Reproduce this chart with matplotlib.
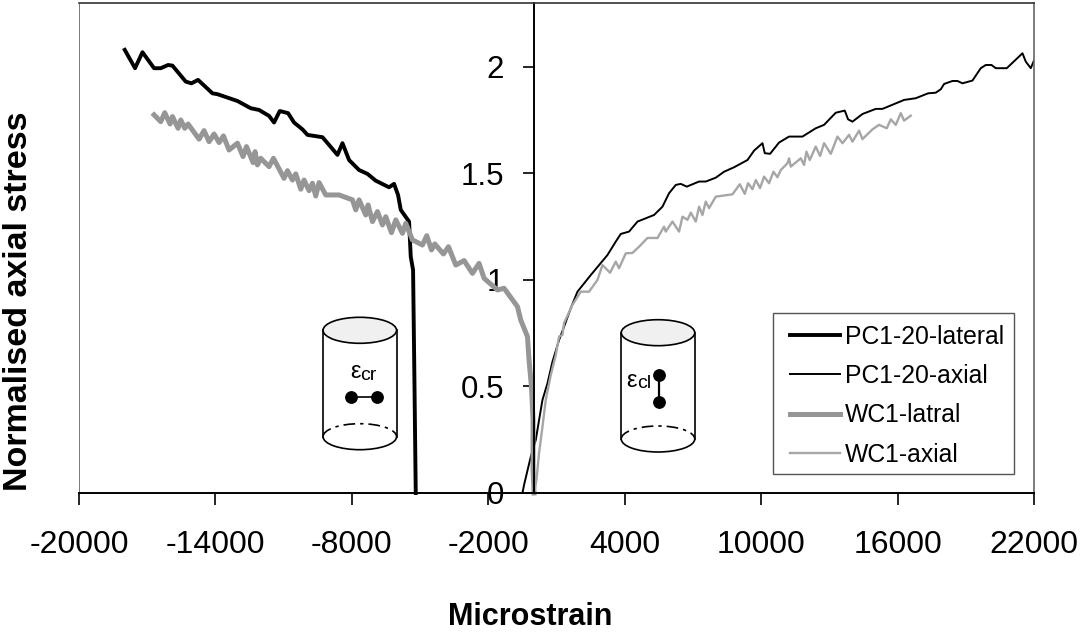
import matplotlib
matplotlib.use('Agg')
import matplotlib.pyplot as plt
from matplotlib.patches import Ellipse, Arc, Rectangle

plt.rcParams['font.family'] = ['Liberation Sans', 'DejaVu Sans']
plt.rcParams['axes.unicode_minus'] = False

# 값은 그림에서 읽은 추정치
pc_lat_x = [-17988, -17535, -17209, -16699, -16405, -16083, -15890, -15305, -15054, -14764, -14131, -13911, -13031, -12446, -12081, -11641, -11422, -11171, -10806, -10542, -10173, -9953, -9293, -9003, -8633, -8413, -8123, -7683, -7314, -6949, -6364, -6144, -5968, -5849, -5484, -5410, -5308, -5264, -5190]
pc_lat_y = [2.08, 1.994, 2.069, 1.994, 1.994, 2.009, 2.006, 1.931, 1.923, 1.939, 1.876, 1.872, 1.84, 1.806, 1.798, 1.77, 1.739, 1.793, 1.783, 1.739, 1.707, 1.681, 1.67, 1.634, 1.587, 1.642, 1.563, 1.516, 1.498, 1.466, 1.435, 1.451, 1.399, 1.329, 1.274, 1.109, 1.047, 0.671, 0]

pc_ax_x = [-497, -427, -132, 88, 308, 383, 603, 822, 1113, 1333, 1627, 1922, 2507, 3241, 3606, 3826, 4191, 4561, 5291, 5660, 5950, 6245, 6465, 6729, 7270, 7565, 8004, 8369, 8809, 9399, 9689, 10058, 10159, 10392, 10788, 11228, 11817, 12402, 12767, 13282, 13678, 13823, 14016, 14456, 15041, 15336, 16286, 16800, 17341, 17680, 17900, 18045, 18414, 18634, 18854, 19294, 19659, 19879, 20130, 20319, 20803, 21493, 21638, 21858, 22000]
pc_ax_y = [0, 0.038, 0.17, 0.249, 0.39, 0.437, 0.515, 0.616, 0.718, 0.781, 0.867, 0.945, 1.023, 1.117, 1.18, 1.216, 1.227, 1.274, 1.305, 1.344, 1.407, 1.446, 1.451, 1.438, 1.462, 1.462, 1.48, 1.508, 1.529, 1.563, 1.607, 1.642, 1.595, 1.592, 1.645, 1.673, 1.673, 1.712, 1.728, 1.785, 1.795, 1.754, 1.743, 1.779, 1.803, 1.803, 1.845, 1.853, 1.876, 1.879, 1.895, 1.92, 1.934, 1.934, 1.923, 1.936, 1.994, 2.009, 2.009, 1.994, 1.994, 2.064, 2.025, 1.994, 2.03]

wc_lat_x = [-16699, -16405, -16229, -15995, -15890, -15644, -15525, -15349, -15204, -14720, -14500, -14280, -14060, -13840, -13647, -13401, -13031, -12785, -12635, -12345, -12257, -12152, -12007, -11641, -11448, -10982, -10832, -10612, -10467, -10247, -10102, -9882, -9733, -9588, -9442, -9148, -8563, -7973, -7828, -7683, -7389, -7287, -7094, -6874, -6654, -6509, -6258, -6069, -5775, -5629, -5335, -4895, -4706, -4499, -4354, -3971, -3751, -3430, -3065, -2696, -2406, -2186, -1596, -1306, -717, -572, -277, -207, -101, -31, -31, 13]
wc_lat_y = [1.775, 1.743, 1.785, 1.732, 1.767, 1.712, 1.751, 1.712, 1.732, 1.661, 1.701, 1.649, 1.685, 1.645, 1.676, 1.61, 1.642, 1.579, 1.626, 1.551, 1.602, 1.54, 1.571, 1.532, 1.571, 1.477, 1.513, 1.469, 1.498, 1.426, 1.469, 1.419, 1.454, 1.394, 1.457, 1.399, 1.399, 1.376, 1.329, 1.376, 1.305, 1.352, 1.274, 1.321, 1.258, 1.297, 1.222, 1.282, 1.219, 1.266, 1.188, 1.164, 1.208, 1.141, 1.169, 1.122, 1.156, 1.07, 1.091, 1.031, 1.078, 1.008, 0.953, 0.961, 0.875, 0.812, 0.734, 0.624, 0.499, 0.343, 0.108, 0]

wc_ax_x = [13, 119, 233, 383, 528, 748, 968, 1113, 1262, 1333, 1702, 2067, 2432, 2801, 3021, 3356, 3606, 3751, 4046, 4341, 4631, 5000, 5440, 5731, 5805, 6100, 6390, 6540, 6760, 6905, 7125, 7270, 7419, 7565, 7710, 8004, 8739, 9060, 9280, 9425, 9618, 9764, 9953, 10128, 10348, 10542, 10718, 10863, 11158, 11228, 11303, 11743, 11888, 11993, 12138, 12402, 12591, 12767, 13062, 13357, 13577, 13867, 14016, 14307, 14456, 14896, 15186, 15525, 15701, 15921, 16141, 16286, 16580]
wc_ax_y = [0, 0.061, 0.188, 0.311, 0.437, 0.554, 0.648, 0.734, 0.742, 0.798, 0.883, 0.945, 0.945, 1.0, 1.07, 1.034, 1.086, 1.055, 1.125, 1.127, 1.156, 1.197, 1.197, 1.25, 1.227, 1.274, 1.227, 1.297, 1.282, 1.316, 1.274, 1.344, 1.305, 1.368, 1.337, 1.391, 1.402, 1.449, 1.404, 1.454, 1.426, 1.469, 1.431, 1.485, 1.454, 1.508, 1.482, 1.516, 1.548, 1.571, 1.532, 1.571, 1.54, 1.602, 1.563, 1.626, 1.582, 1.642, 1.592, 1.673, 1.642, 1.681, 1.649, 1.701, 1.661, 1.707, 1.728, 1.712, 1.754, 1.728, 1.783, 1.748, 1.771]

x_ticks = [-20000, -14000, -8000, -2000, 4000, 10000, 16000, 22000]
y_ticks = [0, 0.5, 1, 1.5, 2]
y_labels = ['0', '0.5', '1', '1.5', '2']

W, H = 1089, 637
fig = plt.figure(figsize=(W/100, H/100), dpi=100)
ax = fig.add_axes([79/W, 1-493/H, (1034-79)/W, (493-3)/H])

ax.plot(pc_lat_x, pc_lat_y, color='black', lw=2.8, label='PC1-20-lateral', solid_joinstyle='round', clip_on=False)
ax.plot(pc_ax_x, pc_ax_y, color='black', lw=1.4, label='PC1-20-axial')
ax.plot(wc_lat_x, wc_lat_y, color='#969696', lw=3.6, label='WC1-latral', solid_joinstyle='round', clip_on=False)
ax.plot(wc_ax_x, wc_ax_y, color='#a6a6a6', lw=1.7, label='WC1-axial')

ax.set_xlim(-20000, 22000)
ax.set_ylim(0, 2.3)
ax.set_xticks(x_ticks)
ax.set_yticks(y_ticks)
ax.set_yticklabels(y_labels)
ax.tick_params(axis='x', direction='out', length=8.6, width=1.2, labelsize=23, pad=18)
ax.tick_params(axis='y', direction='out', length=8, width=1.2, labelsize=22.5, pad=13.5)

ax.spines['left'].set_position(('data', 0))
ax.spines['left'].set_linewidth(1.4)
ax.spines['bottom'].set_linewidth(1.4)
ax.spines['top'].set_color('#333333')
ax.spines['right'].set_color('#666666')
ax.spines['top'].set_linewidth(1.2)
ax.spines['right'].set_linewidth(1.2)
ax.axvline(-20000, color='#555555', lw=1.1)

fig.text(530/W, 1-617/H, 'Microstrain', fontsize=22, fontweight='bold', ha='center', va='center')
fig.text(19/W, 1-301/H, 'Normalised axial stress', fontsize=24.5, fontweight='bold', rotation=90, ha='center', va='center')

leg = ax.legend(loc='upper left', bbox_to_anchor=((773-79)/(1034-79), (493-308)/490), fontsize=17.8, frameon=False,
                handlelength=2.03, handletextpad=0.2, labelspacing=0.62, borderpad=0.68, borderaxespad=0)

# 원통 그림과 범례 테두리는 픽셀 좌표로 그린다
ov = fig.add_axes([0, 0, 1, 1])
ov.set_xlim(0, W)
ov.set_ylim(H, 0)
ov.axis('off')
ov.add_patch(Rectangle((773.3, 313.3), 241, 161, fc='none', ec='#555555', lw=1.0))

def cylinder(cx, top, bottom):
    w, h = 73.5, 26
    ov.add_patch(Ellipse((cx, top), w, h, fc='#f0f0f0', ec='black', lw=1.2))
    ov.plot([cx-w/2, cx-w/2], [top, bottom], color='black', lw=1.2)
    ov.plot([cx+w/2, cx+w/2], [top, bottom], color='black', lw=1.2)
    # y축이 뒤집혀 있어서 0~180이 화면 아래쪽 반원
    ov.add_patch(Arc((cx, bottom), w, h, theta1=0, theta2=180, ec='black', lw=1.2))
    ov.add_patch(Arc((cx, bottom), w, h, theta1=180, theta2=360, ec='black', lw=1.2, ls=(0, (7, 3, 2, 3))))

cylinder(359.8, 330.3, 436.7)
cylinder(658, 332.7, 439)

ov.plot([351, 377], [397, 397], color='black', lw=1.2, marker='o', ms=8.2)
ov.plot([658.7, 658.7], [375, 401.7], color='black', lw=1.6, marker='o', ms=8.2)

ov.text(350, 372, 'ε', fontsize=17, ha='left', va='center')
ov.text(360, 376, 'cr', fontsize=14, ha='left', va='center')
ov.text(626, 381, 'ε', fontsize=17, ha='left', va='center')
ov.text(637, 384, 'cl', fontsize=14, ha='left', va='center')

fig.savefig('out.png', dpi=100)
